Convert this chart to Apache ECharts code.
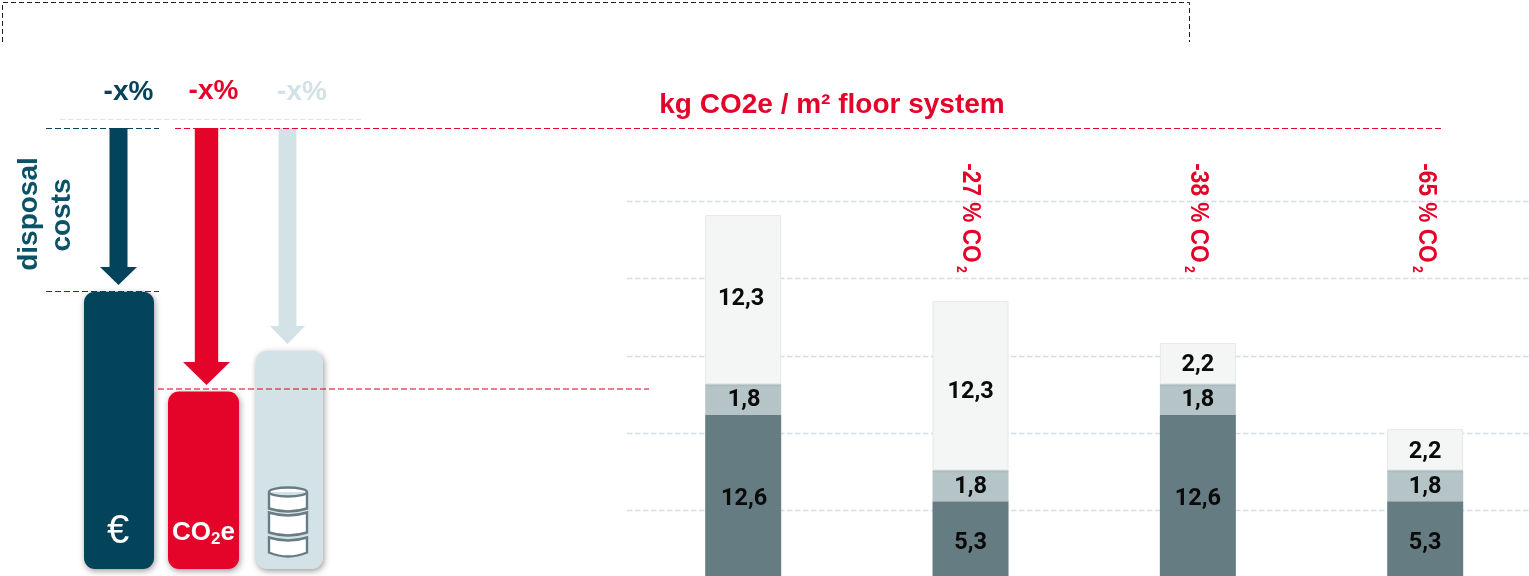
<!DOCTYPE html>
<html>
<head>
<meta charset="utf-8">
<style>html,body{margin:0;padding:0;background:#fff}#c{width:1529px;height:576px}</style>
<script src="https://cdn.jsdelivr.net/npm/echarts@6/dist/echarts.min.js"></script>
</head>
<body>
<div id="c"></div>
<script>
// Right chart: segment heights read on the gridline scale; printed labels kept separately
const floorCategories = ['Reference', 'Variant A', 'Variant B', 'Variant C'];
const baseHeights = [11.17, 5.61, 11.17, 5.61];
const middleHeights = [2.0, 2.0, 2.0, 2.0];
const topHeights = [10.92, 10.92, 2.65, 2.65];
const baseLabels = ['12,6', '5,3', '12,6', '5,3'];
const middleLabels = ['1,8', '1,8', '1,8', '1,8'];
const topLabels = ['12,3', '12,3', '2,2', '2,2'];
const reductionLabels = ['', '-27 % CO', '-38 % CO', '-65 % CO'];
// Left chart
const leverCategories = ['€', 'CO2e', 'material'];
const leverValues = [100, 64, 78.6];
const arrowTipValues = [102.4, 66.3, 81.1];
const leverPercent = ['-x%', '-x%', '-x%'];

const DARK = '#04445a', RED = '#e40429', PALE = '#d3e2e6';
const FONT = '"Liberation Sans", Arial, sans-serif';
const LEVER_COLORS = [DARK, RED, PALE];
const LEVER_WIDTHS = [70, 71, 67];
const LEVER_SHIFT = [0, -0.5, 0.5];
const ARROW = [
  {shift: -0.5, shaft: 9, head: 18.5, headLen: 18},
  {shift: 2.5, shaft: 11.7, head: 23.5, headLen: 23},
  {shift: -1.5, shaft: 8.9, head: 17.5, headLen: 18}
];

const chart = echarts.init(document.getElementById('c'), null, {renderer: 'canvas'});

function dashed(x1, y1, x2, y2, color, opacity, dash, w) {
  return {type: 'line', z: 100, silent: true,
    shape: {x1, y1, x2, y2},
    style: {stroke: color, lineWidth: w || 1, lineDash: dash || [5, 3], opacity: opacity == null ? 1 : opacity}};
}
function txt(x, y, text, size, color, extra) {
  return Object.assign({type: 'text', z: 100, silent: true, x, y,
    style: {text, fontFamily: FONT, fontWeight: 'bold', fontSize: size, fill: color, align: 'center', verticalAlign: 'middle'}}, extra || {});
}
const reductionX = [0, 969, 1197, 1425];
const graphics = [
  {type: 'polyline', z: 100, silent: true,
    shape: {points: [[2.5, 42], [2.5, 2.5], [1189.5, 2.5], [1189.5, 42]]},
    style: {fill: 'none', stroke: '#222', lineWidth: 1, lineDash: [5, 3]}},
  dashed(60, 119.5, 362, 119.5, PALE, 0.9, [5, 3], 1.2),
  dashed(46, 128.5, 159, 128.5, DARK, 1, [6, 3]),
  dashed(175, 128.5, 1443, 128.5, RED, 1, [6, 3], 1.2),
  dashed(46, 291.5, 159, 291.5, DARK, 1, [6, 3]),
  dashed(158, 389, 649, 389, RED, 0.7, [6, 3], 1.3),
  txt(128.5, 92, leverPercent[0], 28, DARK),
  txt(213.5, 91, leverPercent[1], 28, RED),
  txt(302, 92, leverPercent[2], 28, PALE),
  txt(832, 105, 'kg CO2e / m² floor system', 28, RED),
  txt(29, 214, 'disposal', 28, '#0b5269', {rotation: Math.PI / 2}),
  txt(62, 215, 'costs', 28, '#0b5269', {rotation: Math.PI / 2}),
  {type: 'text', z: 100, silent: true, x: 118, y: 532,
    style: {text: '€', fontFamily: FONT, fontSize: 40, fill: '#fff', align: 'center', verticalAlign: 'middle'}},
  {type: 'text', z: 100, silent: true, x: 203.5, y: 533,
    style: {text: '{a|CO}{b|2}{a|e}', align: 'center', verticalAlign: 'middle', fontFamily: FONT,
      rich: {a: {fontFamily: FONT, fontWeight: 'bold', fontSize: 26, fill: '#fff', color: '#fff', lineHeight: 30},
             b: {fontFamily: FONT, fontWeight: 'bold', fontSize: 17, fill: '#fff', color: '#fff', verticalAlign: 'bottom', lineHeight: 30}}}}
];
reductionLabels.forEach(function (t, i) {
  if (!t) return;
  graphics.push({type: 'text', z: 100, silent: true, x: reductionX[i] + 1, y: 218, rotation: -Math.PI / 2, scaleX: 0.87,
    style: {text: '{a|' + t + '}{b| 2}', align: 'center', verticalAlign: 'middle', fontFamily: FONT,
      rich: {a: {fontFamily: FONT, fontWeight: 'bold', fontSize: 26, fill: RED, color: RED, lineHeight: 32},
             b: {fontFamily: FONT, fontWeight: 'bold', fontSize: 14, fill: RED, color: RED, verticalAlign: 'bottom', lineHeight: 32}}}});
});

function labelData(values, labels, offsets) {
  return values.map(function (v, i) {
    return {value: v, label: {formatter: labels[i], offset: offsets[i]}};
  });
}
const barLabel = {show: true, position: 'inside', color: '#0a0a0a', fontFamily: 'Roboto, sans-serif', fontWeight: 'bold', fontSize: 23.5};
const hiddenAxis = {axisLine: {show: false}, axisTick: {show: false}, axisLabel: {show: false}, splitLine: {show: false}};

chart.setOption({
  animation: false,
  backgroundColor: '#fff',
  graphic: {elements: graphics},
  grid: [
    {left: 743.2, top: 201, width: 682, height: 309.6, containLabel: false},
    {left: 76.5, top: 128, width: 255, height: 441, containLabel: false},
    {left: 627, top: 201, width: 902, height: 309.6, containLabel: false}
  ],
  xAxis: [
    Object.assign({gridIndex: 0, type: 'category', boundaryGap: false, data: floorCategories}, hiddenAxis),
    Object.assign({gridIndex: 1, type: 'category', data: leverCategories}, hiddenAxis),
    Object.assign({gridIndex: 2, type: 'value', min: 0, max: 1}, hiddenAxis)
  ],
  yAxis: [
    Object.assign({gridIndex: 0, type: 'value', min: 5, max: 25, interval: 5}, hiddenAxis),
    Object.assign({gridIndex: 1, type: 'value', min: 0, max: 159}, hiddenAxis),
    Object.assign({gridIndex: 2, type: 'value', min: 5, max: 25, interval: 5}, hiddenAxis,
      {splitLine: {show: true, lineStyle: {color: '#d3dfe2', width: 1.4, type: [5.5, 2.5]}}})
  ],
  series: [
    {type: 'bar', stack: 'floor', barWidth: 76, clip: false, xAxisIndex: 0, yAxisIndex: 0,
      data: labelData(baseHeights, baseLabels, [[1, -2], [0, -1], [0, -2], [0, -1]]),
      itemStyle: {color: '#667c83'}, label: barLabel},
    {type: 'bar', stack: 'floor', clip: false, xAxisIndex: 0, yAxisIndex: 0,
      data: labelData(middleHeights, middleLabels, [[1, 1], [0, 1], [0, 1], [0, 1]]),
      itemStyle: {color: {type: 'linear', x: 0, y: 0, x2: 0, y2: 1, colorStops: [{offset: 0, color: '#a7b6ba'}, {offset: 0.1, color: '#b5c4c7'}, {offset: 1, color: '#b5c4c7'}]}},
      label: barLabel},
    {type: 'bar', stack: 'floor', clip: false, xAxisIndex: 0, yAxisIndex: 0,
      data: labelData(topHeights, topLabels, [[-2, 0], [0, 6], [0, 2], [0, 2]]),
      itemStyle: {color: '#f4f6f5', borderColor: '#e5e8e7', borderWidth: 1}, label: barLabel},
    {type: 'custom', xAxisIndex: 1, yAxisIndex: 1, clip: false, z: 3,
      encode: {x: 0, y: 1},
      data: leverValues.map(function (v, i) { return [i, v]; }),
      renderItem: function (params, api) {
        const i = params.dataIndex;
        const top = api.coord([i, api.value(1)]);
        const base = api.coord([i, 0]);
        const w = LEVER_WIDTHS[i];
        const children = [{type: 'rect',
          shape: {x: top[0] + LEVER_SHIFT[i] - w / 2, y: top[1], width: w, height: base[1] - top[1], r: 11},
          style: {fill: LEVER_COLORS[i], shadowBlur: 6, shadowOffsetX: 1, shadowOffsetY: 2, shadowColor: 'rgba(0,0,0,0.4)'}}];
        if (i === 2) {
          children.push({type: 'path', z2: 5,
            shape: {pathData: 'M269,491.5 A19,4.5 0 0 1 307,491.5 A19,4.5 0 0 1 269,491.5 Z M269,491.5 V508 Q288,514 307,508 V491.5 M269,512 V532 Q288,538 307,532 V512 Q288,518 269,512 Z M269,537 V552 Q288,560 307,552 V537 Q288,543 269,537 Z',
              x: 269, y: 487, width: 38, height: 70},
            style: {fill: '#fff', stroke: '#677c84', lineWidth: 2.4}});
        }
        return {type: 'group', children};
      }},
    {type: 'custom', xAxisIndex: 1, yAxisIndex: 1, clip: false, z: 4,
      encode: {x: 0, y: 1},
      data: arrowTipValues.map(function (v, i) { return [i, v]; }),
      renderItem: function (params, api) {
        const i = params.dataIndex, a = ARROW[i];
        const tip = api.coord([i, api.value(1)]);
        const start = api.coord([i, 159]);
        const c = tip[0] + a.shift, y = tip[1], h = y - a.headLen;
        return {type: 'polygon',
          shape: {points: [[c - a.shaft, start[1]], [c + a.shaft, start[1]], [c + a.shaft, h], [c + a.head, h], [c, y], [c - a.head, h], [c - a.shaft, h]]},
          style: {fill: LEVER_COLORS[i]}};
      }}
  ]
});
</script>
</body>
</html>
